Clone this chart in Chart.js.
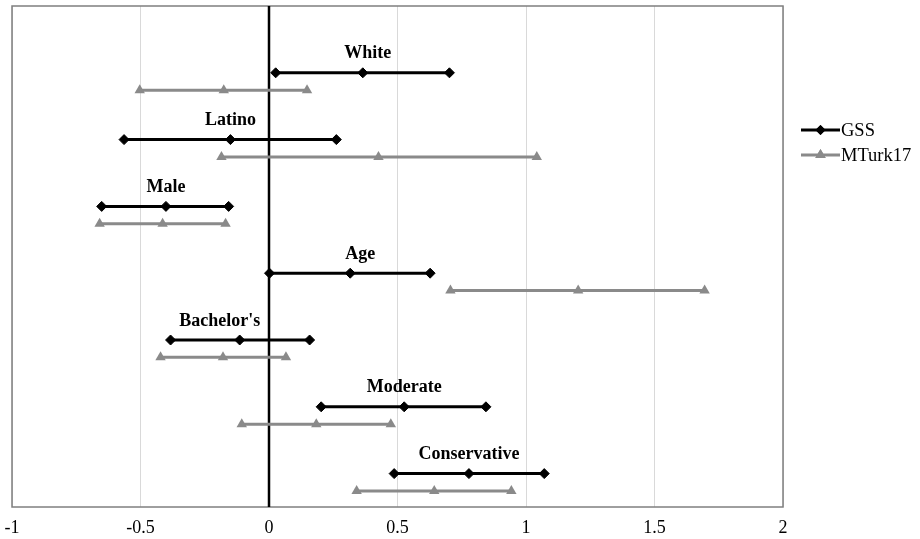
<!DOCTYPE html>
<html>
<head>
<meta charset="utf-8">
<script src="https://cdn.jsdelivr.net/npm/chart.js@4.4.0/dist/chart.umd.min.js"></script>
<style>
  html, body { margin: 0; padding: 0; background: #fff; }
  #chart { display: block; }
</style>
</head>
<body>
<canvas id="chart" width="920" height="539"></canvas>
<script>
const categories = ['White', 'Latino', 'Male', 'Age', "Bachelor's", 'Moderate', 'Conservative'];
const seriesNames = ['GSS', 'MTurk17'];

const gssLow  = [0.026, -0.564, -0.651, 0.002, -0.383, 0.203, 0.487];
const gssMid  = [0.365, -0.150, -0.401, 0.316, -0.114, 0.526, 0.778];
const gssHigh = [0.702, 0.262, -0.157, 0.627, 0.158, 0.844, 1.071];

const mturkLow  = [-0.503, -0.185, -0.659, 0.706, -0.422, -0.106, 0.341];
const mturkMid  = [-0.176, 0.426, -0.414, 1.203, -0.179, 0.184, 0.643];
const mturkHigh = [0.148, 1.042, -0.169, 1.695, 0.066, 0.474, 0.943];

const xTicks = [-1, -0.5, 0, 0.5, 1, 1.5, 2];

const GSS_COLOR = '#000000';
const MTURK_COLOR = '#8a8a8a';
const SERIF = '"Liberation Serif", "Times New Roman", serif';

// row slots on a hidden y axis: GSS row then MTurk row just below it
const MTURK_OFFSET = 0.26;

const datasets = [];
categories.forEach((cat, i) => {
  datasets.push({
    label: seriesNames[0] + ' ' + cat,
    data: [gssLow[i], gssMid[i], gssHigh[i]].map(v => ({ x: v, y: i + 1 })),
    showLine: true,
    borderColor: GSS_COLOR,
    backgroundColor: GSS_COLOR,
    borderWidth: 3,
    pointStyle: 'rectRot',
    pointRadius: 5,
    pointBorderWidth: 1
  });
  datasets.push({
    label: seriesNames[1] + ' ' + cat,
    data: [mturkLow[i], mturkMid[i], mturkHigh[i]].map(v => ({ x: v, y: i + 1 + MTURK_OFFSET })),
    showLine: true,
    borderColor: MTURK_COLOR,
    backgroundColor: MTURK_COLOR,
    borderWidth: 3,
    pointStyle: 'triangle',
    pointRadius: 6,
    pointBorderWidth: 0
  });
});

// small horizontal nudges for the row labels, in pixels
const labelNudge = [5, 0, 0, 10, -20, 0, 0];

const extras = {
  id: 'extras',
  beforeDatasetsDraw(chart) {
    const { ctx, chartArea: a } = chart;
    ctx.save();
    ctx.strokeStyle = '#7f7f7f';
    ctx.lineWidth = 1.5;
    ctx.strokeRect(a.left, a.top, a.right - a.left, a.bottom - a.top);
    // zero line on top of border/grid
    const x0 = chart.scales.x.getPixelForValue(0);
    ctx.strokeStyle = '#000';
    ctx.lineWidth = 2.5;
    ctx.beginPath();
    ctx.moveTo(x0, a.top);
    ctx.lineTo(x0, a.bottom);
    ctx.stroke();
    ctx.restore();
  },
  afterDatasetsDraw(chart) {
    const { ctx } = chart;
    const xs = chart.scales.x, ys = chart.scales.y;
    ctx.save();
    ctx.fillStyle = '#000';
    ctx.font = 'bold 18px ' + SERIF;
    ctx.textAlign = 'center';
    ctx.textBaseline = 'middle';
    categories.forEach((cat, i) => {
      const x = xs.getPixelForValue(gssMid[i]) + labelNudge[i];
      const y = ys.getPixelForValue(i + 1) - 19;
      ctx.fillText(cat, x, y);
    });

    // legend
    const lx = 801, lw = 39;
    const rows = [
      { name: seriesNames[0], color: GSS_COLOR, style: 'rectRot', r: 5, y: 130 },
      { name: seriesNames[1], color: MTURK_COLOR, style: 'triangle', r: 6, y: 155 }
    ];
    ctx.font = '18.5px ' + SERIF;
    ctx.textAlign = 'left';
    rows.forEach(r => {
      ctx.strokeStyle = r.color;
      ctx.lineWidth = 3;
      ctx.beginPath();
      ctx.moveTo(lx, r.y);
      ctx.lineTo(lx + lw, r.y);
      ctx.stroke();
      ctx.fillStyle = r.color;
      Chart.helpers.drawPoint(ctx, { pointStyle: r.style, radius: r.r, borderWidth: 0 }, lx + lw / 2, r.y);
      ctx.fill();
      ctx.fillStyle = '#000';
      ctx.fillText(r.name, lx + lw + 1, r.y + 1);
    });
    ctx.restore();
  }
};

new Chart(document.getElementById('chart'), {
  type: 'scatter',
  data: { datasets },
  options: {
    responsive: false,
    animation: false,
    layout: { padding: { left: 12, right: 137, top: 6, bottom: 0 } },
    plugins: {
      legend: { display: false },
      tooltip: { enabled: false }
    },
    scales: {
      x: {
        type: 'linear',
        min: xTicks[0],
        max: xTicks[xTicks.length - 1],
        afterBuildTicks: axis => { axis.ticks = xTicks.map(v => ({ value: v })); },
        afterFit: axis => {
          axis.height = 32;
          axis.paddingLeft = 0;
          axis.paddingRight = 0;
        },
        ticks: {
          color: '#000',
          font: { family: SERIF, size: 18 },
          padding: 10,
          callback: v => String(v)
        },
        grid: {
          color: '#d9d9d9',
          lineWidth: 1,
          drawTicks: false
        },
        border: { display: false }
      },
      y: {
        type: 'linear',
        display: false,
        reverse: true,
        min: 0,
        max: 7.5
      }
    }
  },
  plugins: [extras]
});
</script>
</body>
</html>
